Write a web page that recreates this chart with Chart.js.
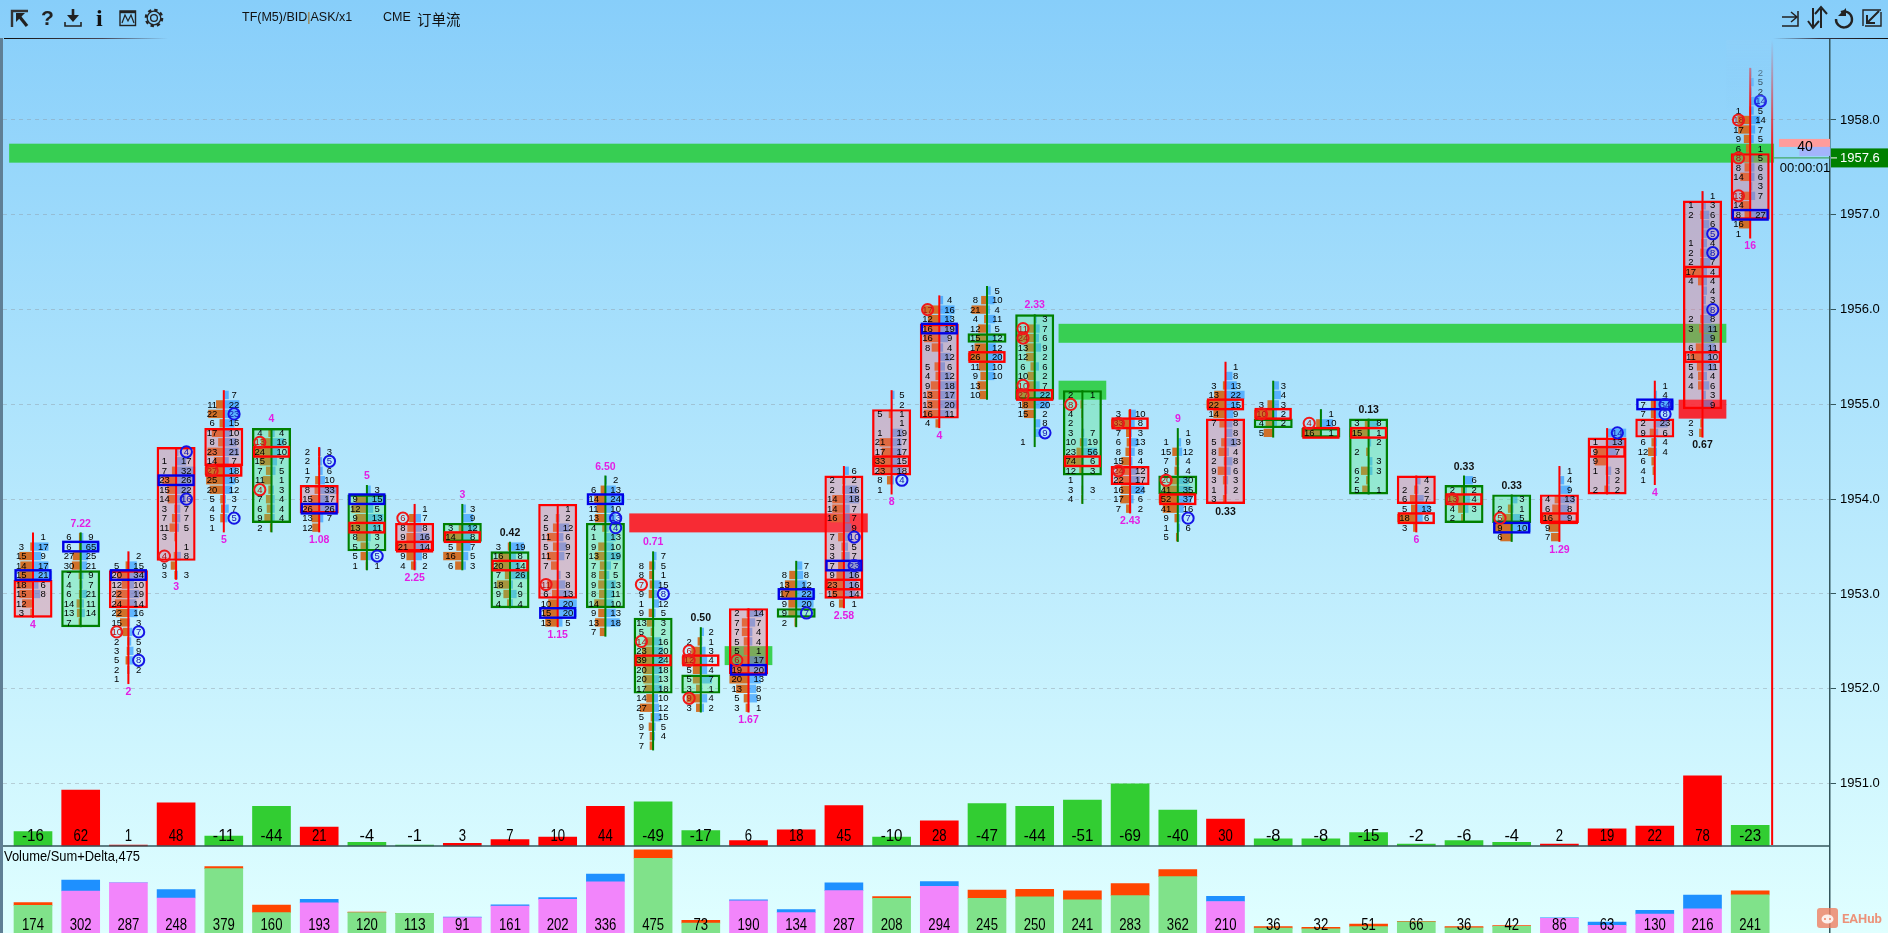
<!DOCTYPE html>
<html>
<head>
<meta charset="utf-8">
<title>订单流</title>
<script src="https://cdn.jsdelivr.net/npm/chart.js@4/dist/chart.umd.min.js"></script>
<style>
  html, body { margin: 0; padding: 0; width: 1888px; height: 933px; overflow: hidden;
    background: linear-gradient(to bottom, #87cefa 0, #e0ffff 933px); }
  #stage { position: absolute; left: 0; top: 0; }
  #tools { position: absolute; left: 0; top: 0; pointer-events: none; }
  .head { position: absolute; top: 10px; font: 12.5px "Liberation Sans", sans-serif; color: #111; white-space: nowrap; }
</style>
</head>
<body>
<canvas id="stage" width="1888" height="933"></canvas>
<svg id="tools" width="1888" height="933" fill="none" stroke="#222" stroke-width="2">
  <defs>
    <linearGradient id="fadeL"><stop offset="0" stop-color="#111"/><stop offset="0.6" stop-color="#445"/><stop offset="1" stop-color="#445" stop-opacity="0"/></linearGradient>
    <linearGradient id="fadeR"><stop offset="0" stop-color="#445" stop-opacity="0"/><stop offset="0.4" stop-color="#334"/><stop offset="1" stop-color="#111"/></linearGradient>
  </defs>
  <rect x="0" y="38" width="3" height="895" fill="#5f7f95" stroke="none"/>
  <rect x="4" y="38" width="164" height="1" fill="url(#fadeL)" stroke="none"/>
  <rect x="1773" y="38" width="115" height="1" fill="url(#fadeR)" stroke="none"/>
  <path d="M12 27V11H28" stroke="#333" stroke-width="2.4"/>
  <path d="M16 13H25L16 22Z" fill="#222" stroke="none"/><path d="M19 16L27 26" stroke-width="3.2"/>
  <text x="41" y="25" font-family="Liberation Sans" font-weight="bold" font-size="21" fill="#222" stroke="none">?</text>
  <path d="M73 9V20" stroke-width="2.6"/><path d="M67 15H79L73 22Z" fill="#222" stroke="none"/><path d="M65 22V26H81V22" stroke-width="1.6"/>
  <text x="96" y="26" font-family="Liberation Serif" font-weight="bold" font-size="24" fill="#111" stroke="none">i</text>
  <rect x="120" y="11" width="15.500" height="14.500" stroke-width="1.4"/><path d="M120 12H136" stroke-width="2.4"/><path d="M122 23L125 15L128 21L131 15L134 23" stroke-width="1.2"/>
  <circle cx="154" cy="18" r="3.4" stroke-width="1.3"/><circle cx="154" cy="18" r="6.8" stroke-width="1.3"/><circle cx="154" cy="18" r="8.200" stroke-width="2.2" stroke-dasharray="3.4 3.04"/>
  <path d="M1782 17H1796M1791 12L1797 17L1791 22" stroke-width="1.5"/><path d="M1798 11V26H1782" stroke-width="1.5"/>
  <path d="M1821 28V9M1815 14L1821 7L1827 14M1813 8V26M1808 21L1813 28L1819 21" stroke-width="2"/>
  <path d="M1841 12A8 8 0 1 1 1836 19" stroke-width="2.4"/><path d="M1846 8V16H1838Z" fill="#222" stroke="none"/>
  <path d="M1863 26V10H1881M1865 26H1881V12" stroke-width="1.4" stroke-dasharray="64 0"/><path d="M1879 11L1868 22M1867 15V23H1875" stroke-width="2"/>
  <g fill="#ef7f62" fill-opacity="0.8" stroke="none">
    <rect x="1817" y="908" width="21" height="20" rx="3"/>
  </g>
  <ellipse cx="1827.5" cy="919" rx="6" ry="4.500" fill="#fff" fill-opacity="0.85" stroke="none"/>
  <circle cx="1825" cy="919" r="1" fill="#ef7f62" stroke="none"/><circle cx="1830" cy="919" r="1" fill="#ef7f62" stroke="none"/>
  <text x="1842" y="923" font-family="Roboto" font-weight="bold" font-size="13" fill="#ef7f62" fill-opacity="0.85" stroke="none">EAHub</text>
</svg>
<span class="head" style="left:242px">TF(M5)/BID<span style="color:#a5701e">|</span>ASK/x1</span>
<span class="head" style="left:383px">CME</span>
<span class="head" style="left:417px;top:8px;font:14.500px 'Noto Sans CJK SC'">订单流</span>

<script>
  'use strict';

  var volumeTotal = [174, 302, 287, 248, 379, 160, 193, 120, 113, 91, 161, 202, 336, 475, 73, 190, 134, 287, 208, 294, 245, 250, 241, 283, 362, 210, 36, 32, 51, 66, 36, 42, 86, 63, 130, 216, 241];
  var delta = [-16, 62, 1, 48, -11, -44, 21, -4, -1, 3, 7, 10, 44, -49, -17, 6, 18, 45, -10, 28, -47, -44, -51, -69, -40, 30, -8, -8, -15, -2, -6, -4, 2, 19, 22, 78, -23];

  var priceTicks = [1951, 1952, 1953, 1954, 1955, 1956, 1957, 1958];
  var lastPrice = 1957.6;
  var tickSize = 0.1;

  // price of the first row in every footprint
  var topPrice = [1953.6, 1953.6, 1953.4, 1954.5, 1955.1, 1954.7, 1954.5, 1954.1, 1953.9, 1953.9, 1953.5, 1953.9, 1954.2, 1953.4, 1952.6, 1952.8, 1953.3, 1954.3, 1955.1, 1956.1, 1956.2, 1955.9, 1955.1, 1954.9, 1954.7, 1955.4, 1955.2, 1954.9, 1954.8, 1954.2, 1954.2, 1954.0, 1954.3, 1954.7, 1955.2, 1957.2, 1958.5];

  var bidRows = [
    [0, 3, 15, 14, 15, 18, 15, 12, 3],
    [6, 6, 27, 30, 7, 4, 6, 14, 13, 7],
    [0, 5, 20, 12, 22, 24, 22, 15, 10, 2, 3, 5, 2, 1],
    [0, 1, 7, 23, 15, 14, 3, 7, 11, 3, 0, 4, 9, 3],
    [0, 11, 22, 6, 17, 8, 23, 14, 27, 25, 20, 5, 4, 5, 1],
    [4, 13, 24, 15, 7, 11, 4, 7, 6, 9, 2],
    [2, 2, 1, 7, 8, 15, 26, 13, 12],
    [0, 9, 12, 9, 13, 8, 5, 5, 1],
    [0, 6, 8, 9, 21, 9, 4],
    [0, 0, 3, 14, 5, 16, 6],
    [3, 16, 20, 7, 18, 9, 4],
    [0, 2, 5, 11, 5, 11, 7, 0, 11, 6, 10, 15, 13],
    [0, 6, 14, 11, 13, 4, 1, 9, 13, 7, 8, 9, 8, 14, 9, 13, 7],
    [0, 8, 8, 7, 9, 1, 9, 13, 5, 14, 23, 39, 20, 20, 17, 14, 27, 5, 9, 7, 7],
    [0, 2, 6, 12, 5, 5, 3, 9, 3],
    [2, 7, 7, 5, 5, 6, 19, 20, 13, 5, 3],
    [0, 8, 13, 17, 9, 9, 2],
    [0, 2, 2, 14, 14, 16, 0, 7, 3, 3, 7, 9, 23, 15, 6],
    [0, 0, 5, 0, 1, 21, 17, 33, 23, 8, 1],
    [0, 17, 12, 16, 16, 8, 0, 5, 4, 9, 13, 13, 16, 4],
    [0, 8, 21, 4, 12, 15, 17, 26, 11, 9, 13, 10],
    [0, 11, 24, 13, 12, 6, 10, 10, 27, 18, 15, 0, 0, 1],
    [2, 8, 4, 2, 3, 10, 23, 74, 12, 1, 3, 4],
    [3, 33, 7, 6, 8, 15, 24, 22, 16, 17, 7],
    [0, 1, 15, 7, 9, 20, 41, 52, 41, 9, 1, 5],
    [0, 0, 3, 13, 22, 14, 7, 0, 5, 8, 2, 9, 3, 1, 3],
    [0, 0, 3, 10, 4, 5],
    [0, 4, 16],
    [3, 15, 0, 2, 0, 6, 2, 5],
    [0, 2, 6, 5, 18, 3],
    [0, 2, 13, 4, 2],
    [0, 2, 5, 9, 6],
    [0, 0, 0, 4, 6, 16, 9, 7],
    [0, 1, 9, 9, 1, 0, 2],
    [0, 0, 7, 7, 2, 9, 6, 12, 6, 4, 1],
    [0, 1, 2, 0, 0, 1, 2, 2, 17, 4, 0, 0, 0, 2, 3, 0, 6, 11, 5, 4, 4, 0, 0, 0, 2, 3],
    [0, 0, 0, 0, 1, 18, 17, 9, 6, 8, 8, 14, 0, 13, 14, 8, 16, 1]
  ];

  var askRows = [
    [1, 17, 9, 17, 21, 6, 8, 0, 0],
    [9, 65, 25, 21, 9, 7, 21, 11, 14, 0],
    [2, 15, 34, 10, 19, 14, 16, 3, 7, 5, 9, 8, 2, 0],
    [4, 17, 32, 26, 22, 16, 7, 7, 5, 0, 1, 8, 0, 3],
    [7, 22, 23, 15, 10, 18, 21, 7, 18, 16, 12, 3, 7, 5, 0],
    [4, 16, 10, 7, 5, 1, 3, 4, 4, 4, 0],
    [3, 5, 6, 10, 33, 17, 26, 7, 0],
    [3, 15, 5, 13, 11, 3, 2, 5, 1],
    [1, 7, 8, 16, 14, 8, 2],
    [3, 9, 12, 8, 7, 5, 3],
    [19, 8, 14, 26, 4, 9, 4],
    [1, 2, 12, 6, 9, 7, 0, 3, 8, 13, 20, 20, 5],
    [2, 13, 24, 10, 13, 4, 13, 10, 19, 7, 5, 13, 11, 10, 13, 18, 0],
    [7, 5, 1, 15, 8, 12, 5, 3, 2, 16, 20, 24, 18, 13, 18, 10, 12, 15, 5, 4, 0],
    [2, 1, 3, 4, 4, 7, 1, 4, 2],
    [14, 7, 4, 4, 1, 17, 20, 13, 8, 9, 1],
    [7, 8, 12, 22, 20, 7, 0],
    [6, 2, 16, 18, 7, 7, 9, 10, 5, 7, 23, 16, 16, 14, 1],
    [5, 2, 1, 1, 19, 17, 17, 15, 18, 4, 0],
    [4, 16, 13, 19, 9, 4, 12, 6, 12, 18, 17, 20, 11, 0],
    [5, 10, 4, 11, 5, 12, 12, 20, 10, 10, 0, 0],
    [3, 7, 6, 9, 2, 6, 2, 7, 22, 20, 2, 8, 9, 0],
    [1, 0, 0, 0, 7, 19, 56, 6, 3, 0, 3, 0],
    [10, 8, 3, 13, 8, 4, 12, 17, 24, 6, 2],
    [1, 9, 12, 4, 4, 30, 35, 37, 16, 7, 6, 0],
    [1, 8, 13, 22, 15, 9, 8, 8, 13, 4, 8, 6, 3, 2, 0],
    [3, 4, 3, 2, 2, 0],
    [1, 10, 1],
    [8, 1, 2, 0, 3, 3, 0, 1],
    [4, 2, 7, 13, 6, 0],
    [6, 2, 4, 3, 0],
    [3, 1, 5, 10, 0],
    [1, 4, 9, 13, 8, 9, 0, 0],
    [14, 13, 7, 0, 3, 2, 2],
    [1, 4, 34, 8, 23, 6, 4, 4, 0, 0, 0],
    [1, 3, 6, 6, 5, 4, 8, 7, 4, 4, 4, 3, 8, 8, 11, 9, 11, 10, 11, 4, 6, 3, 9, 0, 0, 0],
    [2, 5, 2, 14, 5, 14, 7, 5, 1, 5, 6, 6, 3, 7, 0, 27, 0, 0]
  ];

  // first and last row of the open/close body, 1 when the candle closed up
  var bodyFirst = [5, 4, 2, 0, 4, 0, 4, 1, 2, 2, 1, 0, 5, 7, 5, 0, 5, 1, 2, 3, 5, 0, 0, 6, 5, 6, 4, 2, 0, 0, 1, 0, 3, 1, 4, 1, 9];
  var bodyLast = [8, 9, 5, 11, 7, 9, 6, 6, 4, 3, 6, 9, 13, 14, 6, 6, 5, 13, 8, 12, 5, 8, 8, 7, 6, 14, 4, 2, 7, 2, 4, 2, 5, 6, 5, 22, 15];
  var candleUp = [1, 0, 1, 1, 1, 0, 1, 0, 1, 0, 0, 1, 0, 0, 0, 1, 0, 1, 1, 1, 0, 0, 0, 1, 0, 1, 0, 0, 0, 1, 0, 0, 1, 1, 1, 1, 1];

  // [candle, row]
  var blueRows = [[0, 4], [1, 1], [2, 2], [3, 3], [6, 6], [7, 1], [11, 11], [12, 2], [15, 6], [16, 3], [17, 10], [19, 3], [31, 3], [34, 2], [36, 15]];
  var redRows = [[4, 8], [5, 2], [7, 4], [8, 4], [9, 3], [10, 2], [13, 11], [14, 3], [17, 12], [18, 7], [20, 7], [21, 8], [22, 7], [23, 1], [24, 7], [25, 4], [26, 3], [27, 2], [28, 1], [29, 4], [30, 2], [32, 5], [33, 2], [35, 8], [35, 17]];
  var bidCircles = [[2, 8], [3, 11], [4, 8], [5, 1], [5, 6], [8, 1], [11, 8], [13, 3], [13, 9], [14, 2], [14, 3], [14, 7], [15, 5], [19, 1], [21, 1], [21, 2], [21, 7], [21, 8], [22, 1], [23, 1], [23, 6], [24, 5], [26, 3], [27, 1], [30, 2], [31, 2], [36, 5], [36, 9], [36, 13]];
  var askCircles = [[2, 8], [2, 11], [3, 0], [3, 5], [4, 2], [4, 13], [6, 1], [7, 7], [12, 4], [12, 5], [13, 4], [16, 5], [17, 7], [17, 10], [18, 9], [21, 12], [24, 9], [33, 0], [34, 2], [34, 3], [35, 4], [35, 6], [35, 12], [36, 3]];

  var noteText = ['4', '7.22', '2', '3', '5', '4', '1.08', '5', '2.25', '3', '0.42', '1.15', '6.50', '0.71', '0.50', '1.67', '', '2.58', '8', '4', '', '2.33', '', '2.43', '9', '0.33', '', '', '0.13', '6', '0.33', '0.33', '1.29', '', '4', '0.67', '16'];
  var noteAbove = [0, 1, 0, 0, 0, 1, 0, 1, 0, 1, 1, 0, 1, 1, 1, 0, 0, 0, 0, 0, 0, 1, 0, 0, 1, 0, 0, 0, 1, 0, 1, 1, 0, 0, 0, 0, 0];
  var noteBlack = [10, 14, 25, 28, 30, 31, 35];

  // supply / demand zones, candle range and price range
  var zoneFrom = [0, 22, 22, 13, 15, 35];
  var zoneTo = [36, 35, 22, 17, 15, 35];
  var zoneHigh = [1957.75, 1955.85, 1955.25, 1953.85, 1952.45, 1955.05];
  var zoneLow = [1957.55, 1955.65, 1955.05, 1953.65, 1952.25, 1954.85];
  var zoneBuy = [1, 1, 1, 0, 1, 0];

  var bidSize = 40;
  var askSize = 24;
  var countdown = '00:00:01';
  var panelTitle = 'Volume/Sum+Delta,475';

  var UP_COLOR = '#ff0000';
  var DOWN_COLOR = '#008000';
  var SIDE_FONT = '"Liberation Sans", sans-serif';
  var BAR_FONT = '"Liberation Sans", sans-serif';
  var CELL_FONT = '9.5px "Liberation Sans", sans-serif';

  // plot sits at 3..1830 x 40..933, candle step 47.7px, price step 94.8px
  var xMin = (3 - 33) / 47.7;
  var xMax = (1830 - 33) / 47.7;
  var yMax = 1958 + (120 - 40) / 94.8;
  var yMin = yMax - 893 / 94.8;
  var deltaMin = -(933 - 846) / 0.9;
  var deltaMax = (846 - 40) / 0.9;
  var volumeMax = 893 / 0.175;

  function rowPrice(c, row) {
      return topPrice[c] - row * tickSize;
  }

  function points(values) {
      return values.map(function (v, i) { return { x: i, y: v }; });
  }

  var footprintPlugin = {
      id: 'footprint',
      beforeDatasetDraw: function (chart, args) {
          if (args.index !== 3) { return; }
          var ctx = chart.ctx, xs = chart.scales.x, ys = chart.scales.y;
          ctx.save();
          // zones sit under the candles
          zoneFrom.forEach(function (from, i) {
              var l = xs.getPixelForValue(from - 0.5), r = xs.getPixelForValue(zoneTo[i] + 0.5);
              var t = ys.getPixelForValue(zoneHigh[i]), b = ys.getPixelForValue(zoneLow[i]);
              ctx.fillStyle = zoneBuy[i] ? 'rgba(44,205,64,0.9)' : 'rgba(255,16,24,0.88)';
              ctx.fillRect(l, t, r - l, b - t);
          });
          // volume histogram on both sides of the wick
          topPrice.forEach(function (p, c) {
              var max = Math.max.apply(null, bidRows[c].concat(askRows[c]));
              var cx = xs.getPixelForValue(c);
              bidRows[c].forEach(function (bid, row) {
                  var price = rowPrice(c, row);
                  var t = ys.getPixelForValue(price + 0.044), b = ys.getPixelForValue(price - 0.044);
                  var bl = xs.getPixelForValue(c - 0.4 * bid / max);
                  var ar = xs.getPixelForValue(c + 0.4 * askRows[c][row] / max);
                  ctx.fillStyle = 'rgba(210,105,30,0.95)';
                  ctx.fillRect(bl, t, cx - bl, b - t);
                  ctx.fillStyle = 'rgba(30,144,255,0.6)';
                  ctx.fillRect(cx, t, ar - cx, b - t);
              });
          });
          ctx.restore();
      },
      afterDatasetsDraw: function (chart) {
          var ctx = chart.ctx, xs = chart.scales.x, ys = chart.scales.y, area = chart.chartArea;
          var yd = chart.scales.yDelta;
          ctx.save();

          function rowBox(list, color) {
              ctx.strokeStyle = color;
              ctx.lineWidth = 2.4;
              list.forEach(function (item) {
                  var p = rowPrice(item[0], item[1]);
                  var l = xs.getPixelForValue(item[0] - 0.365), r = xs.getPixelForValue(item[0] + 0.365);
                  var t = ys.getPixelForValue(p + 0.05), b = ys.getPixelForValue(p - 0.05);
                  ctx.strokeRect(l, t, r - l, b - t);
              });
          }
          rowBox(redRows, UP_COLOR);
          rowBox(blueRows, '#0000e6');

          // cell numbers, circled ones take the circle colour
          var circled = {};
          bidCircles.forEach(function (it) { circled['b' + it[0] + '_' + it[1]] = 1; });
          askCircles.forEach(function (it) { circled['a' + it[0] + '_' + it[1]] = 1; });
          ctx.font = CELL_FONT;
          ctx.textAlign = 'center';
          ctx.textBaseline = 'middle';
          topPrice.forEach(function (p, c) {
              bidRows[c].forEach(function (bid, row) {
                  var y = ys.getPixelForValue(rowPrice(c, row)) + 0.5;
                  if (bid) {
                      ctx.fillStyle = circled['b' + c + '_' + row] ? '#b01010' : '#000';
                      ctx.fillText(bid, xs.getPixelForValue(c - 0.245), y);
                  }
                  if (askRows[c][row]) {
                      ctx.fillStyle = circled['a' + c + '_' + row] ? '#1010b0' : '#000';
                      ctx.fillText(askRows[c][row], xs.getPixelForValue(c + 0.215), y);
                  }
              });
          });

          function circles(list, offset, color) {
              ctx.strokeStyle = color;
              ctx.lineWidth = 2;
              list.forEach(function (item) {
                  ctx.beginPath();
                  ctx.arc(xs.getPixelForValue(item[0] + offset), ys.getPixelForValue(rowPrice(item[0], item[1])), 5.6, 0, Math.PI * 2);
                  ctx.stroke();
              });
          }
          circles(bidCircles, -0.245, '#f01818');
          circles(askCircles, 0.215, '#1414e6');

          // notes above or below every footprint
          noteText.forEach(function (text, c) {
              if (!text) { return; }
              var lastRow = bidRows[c].length - 1;
              var y = noteAbove[c] ? ys.getPixelForValue(topPrice[c]) - 13.5 : ys.getPixelForValue(rowPrice(c, lastRow)) + 12.5;
              var black = noteBlack.indexOf(c) >= 0;
              ctx.font = 'bold 10.5px "Liberation Sans", sans-serif';
              ctx.fillStyle = black ? '#111' : '#e31ee3';
              ctx.fillText(text, xs.getPixelForValue(c), y);
          });

          // zero line of the delta panel
          ctx.strokeStyle = '#34565c';
          ctx.lineWidth = 1.5;
          ctx.beginPath();
          ctx.moveTo(area.left, yd.getPixelForValue(0));
          ctx.lineTo(area.right, yd.getPixelForValue(0));
          ctx.stroke();

          // bar labels, squeezed to the narrow look of the platform font
          ctx.fillStyle = '#000';
          ctx.font = '17px ' + BAR_FONT;
          delta.forEach(function (v, i) {
              ctx.fillText(v, xs.getPixelForValue(i), yd.getPixelForValue(0) - 9.5, String(v).length * 7.3);
              ctx.fillText(volumeTotal[i], xs.getPixelForValue(i), area.bottom - 8, String(volumeTotal[i]).length * 7.3);
          });

          ctx.textAlign = 'left';
          ctx.font = '14.5px ' + BAR_FONT;
          ctx.fillText(panelTitle, area.left + 1, yd.getPixelForValue(0) + 11, 136);

          // time line of the running bar
          var lineX = xs.getPixelForValue(36.46);
          var fade = ctx.createLinearGradient(0, area.top, 0, 160);
          fade.addColorStop(0, 'rgba(255,0,0,0)');
          fade.addColorStop(1, 'rgba(255,0,0,1)');
          ctx.fillStyle = fade;
          ctx.fillRect(lineX - 1, area.top, 2, yd.getPixelForValue(0) - 1 - area.top);

          // the top of the last candle fades out
          var cover = ctx.createLinearGradient(0, area.top, 0, 110);
          cover.addColorStop(0, 'rgba(142,208,249,1)');
          cover.addColorStop(1, 'rgba(142,208,249,0)');
          ctx.fillStyle = cover;
          ctx.fillRect(xs.getPixelForValue(35.5), area.top, xs.getPixelForValue(36.44) - xs.getPixelForValue(35.5), 70);

          // last price line, tag and book sizes
          var lastY = ys.getPixelForValue(lastPrice);
          ctx.strokeStyle = '#2e9e3e';
          ctx.lineWidth = 1;
          ctx.beginPath();
          ctx.moveTo(xs.getPixelForValue(36.5), lastY);
          ctx.lineTo(area.right, lastY);
          ctx.stroke();

          ctx.fillStyle = '#ff9c9c';
          ctx.fillRect(area.right - bidSize * 1.275, lastY - 19, bidSize * 1.275, 8);
          ctx.fillStyle = '#a3b4fb';
          ctx.fillRect(area.right - askSize * 1.275, lastY - 11, askSize * 1.275, 9);
          ctx.fillStyle = '#000';
          ctx.font = '14px ' + SIDE_FONT;
          ctx.textAlign = 'center';
          ctx.fillText(bidSize, area.right - 25, lastY - 10.5);
          ctx.font = '13px ' + SIDE_FONT;
          ctx.fillText(countdown, area.right - 25, lastY + 10.5);

          ctx.fillStyle = '#008000';
          ctx.fillRect(area.right + 1, lastY - 9.5, 58, 19);
          ctx.strokeStyle = '#fff';
          ctx.beginPath();
          ctx.moveTo(area.right + 1, lastY);
          ctx.lineTo(area.right + 7, lastY);
          ctx.stroke();
          ctx.fillStyle = '#fff';
          ctx.textAlign = 'left';
          ctx.font = '13px ' + SIDE_FONT;
          ctx.fillText(lastPrice.toFixed(1), area.right + 10, lastY + 0.5);
          ctx.restore();
      }
  };

  new Chart(document.getElementById('stage').getContext('2d'), {
      type: 'bar',
      data: {
          datasets: [
              {
                  // wick
                  yAxisID: 'y', order: 1, grouped: false, barThickness: 2, inflateAmount: 0,
                  data: topPrice.map(function (p, c) {
                      return { x: c, y: [rowPrice(c, bidRows[c].length - 1) - tickSize / 2, p + tickSize / 2] };
                  }),
                  backgroundColor: candleUp.map(function (u) { return u ? UP_COLOR : DOWN_COLOR; })
              },
              {
                  yAxisID: 'yDelta', order: 9, grouped: false, barThickness: 38,
                  data: points(delta.map(Math.abs)),
                  backgroundColor: delta.map(function (v) { return v < 0 ? '#32cd32' : '#ff0000'; })
              },
              {
                  yAxisID: 'yVol', order: 9, grouped: false, barThickness: 38, stack: 'vol',
                  data: points(volumeTotal.map(function (v, i) { return v - Math.abs(delta[i]); })),
                  backgroundColor: delta.map(function (v) { return v < 0 ? '#80e28a' : '#f285fb'; })
              },
              {
                  // body, drawn over the histogram
                  yAxisID: 'y', order: 2, grouped: false, barThickness: 39,
                  data: topPrice.map(function (p, c) {
                      return { x: c, y: [rowPrice(c, bodyLast[c]) - tickSize / 2, rowPrice(c, bodyFirst[c]) + tickSize / 2] };
                  }),
                  backgroundColor: candleUp.map(function (u) { return u ? 'rgba(255,94,110,0.32)' : 'rgba(70,235,110,0.3)'; }),
                  borderColor: candleUp.map(function (u) { return u ? UP_COLOR : DOWN_COLOR; }),
                  borderWidth: 2.4,
                  borderSkipped: false,
                  inflateAmount: 0
              },
              {
                  yAxisID: 'yVol', order: 9, grouped: false, barThickness: 38, stack: 'vol',
                  data: points(delta.map(Math.abs)),
                  backgroundColor: delta.map(function (v) { return v < 0 ? '#ff4500' : '#1e90ff'; })
              }
          ]
      },
      options: {
          responsive: false,
          animation: false,
          events: [],
          layout: { padding: { left: 3, top: 40, right: 0, bottom: 0 } },
          plugins: { legend: { display: false }, tooltip: { enabled: false } },
          scales: {
              x: { type: 'linear', min: xMin, max: xMax, display: false, offset: false, grid: { offset: false } },
              y: {
                  type: 'linear', position: 'right', min: yMin, max: yMax,
                  afterBuildTicks: function (scale) {
                      scale.ticks = priceTicks.map(function (v) { return { value: v }; });
                  },
                  afterFit: function (scale) {
                      scale.width = 58;
                      scale.paddingTop = 0;
                      scale.paddingBottom = 0;
                  },
                  ticks: {
                      autoSkip: false, padding: 4, color: '#000',
                      font: { family: 'Liberation Sans', size: 13 },
                      callback: function (v) { return v.toFixed(1); }
                  },
                  grid: { color: 'rgba(140,150,160,0.42)', tickColor: '#34565c', tickLength: 6 },
                  border: { color: '#34565c', width: 1.5, dash: [4, 4] }
              },
              yDelta: { type: 'linear', display: false, min: deltaMin, max: deltaMax, position: 'left' },
              yVol: { type: 'linear', display: false, min: 0, max: volumeMax, position: 'left', stacked: true }
          }
      },
      plugins: [footprintPlugin]
  });
</script>
</body>
</html>
